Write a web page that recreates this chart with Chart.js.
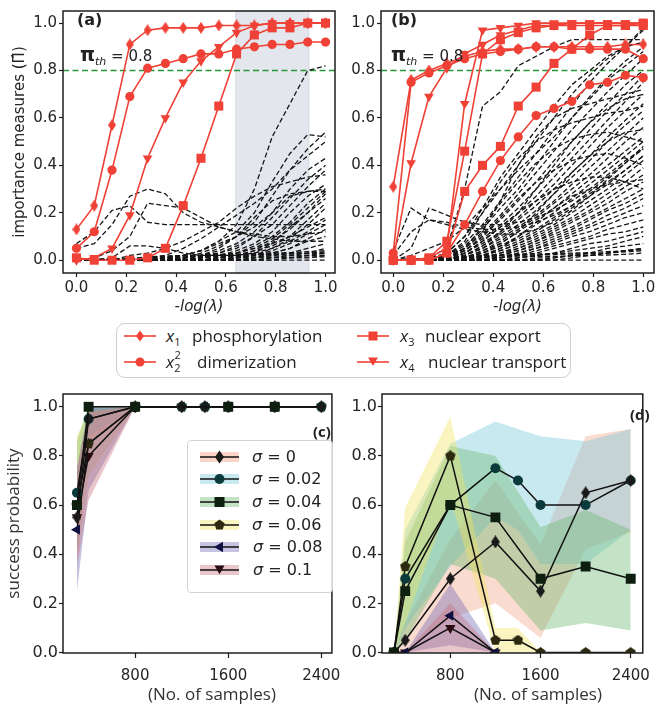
<!DOCTYPE html>
<html><head><meta charset="utf-8">
<script src="https://cdn.jsdelivr.net/npm/chart.js@4.4.1/dist/chart.umd.min.js"></script>
<style>
html,body{margin:0;padding:0;background:#fff;}
#wrap{position:relative;width:659px;height:707px;overflow:hidden;font-family:'DejaVu Sans',sans-serif;}
canvas{position:absolute;}
.ov{position:absolute;white-space:nowrap;color:#222;z-index:5;}
.lg{font-family:'Open Sans',sans-serif;font-size:17px;line-height:20px;}
.lg i{font-style:italic;}
.lg sub,.lg sup{font-size:11px;line-height:0;}
.cl{font-family:'DejaVu Sans';font-size:16px;line-height:20px;color:#222;}
svg{position:absolute;overflow:visible;z-index:5;}
</style></head><body><div id="wrap">
<canvas id="ca" width="345" height="320" style="left:0;top:0"></canvas>
<canvas id="cb" width="339" height="320" style="left:320px;top:0"></canvas>
<canvas id="cc" width="350" height="327" style="left:0;top:380px"></canvas>
<canvas id="cd" width="329" height="327" style="left:330px;top:380px"></canvas>

<div class="ov" style="left:77px;top:10px;font-weight:bold;font-size:16px;">(a)</div>
<div class="ov" style="left:391px;top:10px;font-weight:bold;font-size:16px;">(b)</div>
<div class="ov" style="left:80px;top:44px;line-height:20px;"><span style="font-weight:bold;font-size:19px;">π</span><sub style="font-style:italic;font-size:11px;">th</sub><span style="font-size:15px;"> = 0.8</span></div>
<div class="ov" style="left:391px;top:44px;line-height:20px;"><span style="font-weight:bold;font-size:19px;">π</span><sub style="font-style:italic;font-size:11px;">th</sub><span style="font-size:15px;"> = 0.8</span></div>

<div class="ov" style="left:116px;top:323px;width:453px;height:53px;border:1px solid #cfcfcf;border-radius:9px;background:#fff;z-index:4;"></div>
<svg style="left:124px;top:328px" width="32" height="16"><line x1="0" y1="8" x2="32" y2="8" stroke="#ef4136" stroke-width="1.6"/><polygon points="16,2.5 20,8 16,13.5 12,8" fill="#ef4136"/></svg>
<svg style="left:124px;top:354px" width="32" height="16"><line x1="0" y1="8" x2="32" y2="8" stroke="#ef4136" stroke-width="1.6"/><circle cx="16" cy="8" r="4.5" fill="#ef4136"/></svg>
<svg style="left:357px;top:328px" width="32" height="16"><line x1="0" y1="8" x2="32" y2="8" stroke="#ef4136" stroke-width="1.6"/><rect x="11.5" y="3.5" width="9" height="9" fill="#ef4136"/></svg>
<svg style="left:357px;top:354px" width="32" height="16"><line x1="0" y1="8" x2="32" y2="8" stroke="#ef4136" stroke-width="1.6"/><polygon points="11,3.5 21,3.5 16,12" fill="#ef4136"/></svg>
<div class="ov lg" style="left:166px;top:326px;"><i>x</i><sub>1</sub></div>
<div class="ov lg" style="left:192px;top:326px;">phosphorylation</div>
<div class="ov lg" style="left:166px;top:352px;"><i>x</i><sub>2</sub><sup style="position:relative;left:-6px;top:-2px;">2</sup></div>
<div class="ov lg" style="left:197px;top:352px;">dimerization</div>
<div class="ov lg" style="left:400px;top:326px;"><i>x</i><sub>3</sub></div>
<div class="ov lg" style="left:425px;top:326px;">nuclear export</div>
<div class="ov lg" style="left:400px;top:352px;"><i>x</i><sub>4</sub></div>
<div class="ov lg" style="left:428px;top:352px;">nuclear transport</div>

<div class="ov" style="left:313px;top:421px;font-family:'Open Sans';font-weight:bold;font-size:15px;">(c)</div>
<div class="ov" style="left:630px;top:404px;font-family:'Open Sans';font-weight:bold;font-size:15px;">(d)</div>
<div class="ov" style="left:212px;top:682px;transform:translateX(-50%);font-family:'Open Sans';font-size:17px;color:#333;">(No. of samples)</div>
<div class="ov" style="left:538px;top:682px;transform:translateX(-50%);font-family:'Open Sans';font-size:17px;color:#333;">(No. of samples)</div>

<div class="ov" style="left:187px;top:440px;width:144px;height:151px;border:1px solid #d3d3d3;border-radius:4px;background:rgba(255,255,255,0.85);z-index:4;"></div>
<svg style="left:200px;top:449px" width="40" height="16"><rect x="0" y="3" width="39" height="10" fill="rgba(240,135,97,0.36)"/><line x1="0" y1="8" x2="39" y2="8" stroke="#111" stroke-width="1.5"/><polygon points="19.5,1.5 24,8 19.5,14.5 15,8" fill="#1a1a1a"/></svg>
<svg style="left:200px;top:471px" width="40" height="16"><rect x="0" y="3" width="39" height="10" fill="rgba(120,200,220,0.4)"/><line x1="0" y1="8" x2="39" y2="8" stroke="#111" stroke-width="1.5"/><circle cx="19.5" cy="8" r="5" fill="#0b3a3b"/></svg>
<svg style="left:200px;top:494px" width="40" height="16"><rect x="0" y="3" width="39" height="10" fill="rgba(107,185,112,0.4)"/><line x1="0" y1="8" x2="39" y2="8" stroke="#111" stroke-width="1.5"/><rect x="14.5" y="3" width="10" height="10" fill="#0e1e0f"/></svg>
<svg style="left:200px;top:517px" width="40" height="16"><rect x="0" y="3" width="39" height="10" fill="rgba(242,227,97,0.4)"/><line x1="0" y1="8" x2="39" y2="8" stroke="#111" stroke-width="1.5"/><polygon points="19.5,2.5 24.7,6.3 22.7,12.4 16.3,12.4 14.3,6.3" fill="#2c2910"/></svg>
<svg style="left:200px;top:539px" width="40" height="16"><rect x="0" y="3" width="39" height="10" fill="rgba(110,105,180,0.4)"/><line x1="0" y1="8" x2="39" y2="8" stroke="#111" stroke-width="1.5"/><polygon points="14,8 23,2.8 23,13.2" fill="#101042"/></svg>
<svg style="left:200px;top:562px" width="40" height="16"><rect x="0" y="3" width="39" height="10" fill="rgba(200,112,125,0.4)"/><line x1="0" y1="8" x2="39" y2="8" stroke="#111" stroke-width="1.5"/><polygon points="14.5,3.5 24.5,3.5 19.5,12.2" fill="#2a0b12"/></svg>
<div class="ov cl" style="left:252px;top:447px;"><i>σ</i> = 0</div>
<div class="ov cl" style="left:252px;top:469px;"><i>σ</i> = 0.02</div>
<div class="ov cl" style="left:252px;top:492px;"><i>σ</i> = 0.04</div>
<div class="ov cl" style="left:252px;top:515px;"><i>σ</i> = 0.06</div>
<div class="ov cl" style="left:253px;top:537px;"><i>σ</i> = 0.08</div>
<div class="ov cl" style="left:253px;top:560px;"><i>σ</i> = 0.1</div>
</div>
<script>
// ---------- data: panels (a) and (b) ----------
const lambdaX = [0, 0.0714, 0.1429, 0.2143, 0.2857, 0.3571, 0.4286, 0.5, 0.5714, 0.6429, 0.7143, 0.7857, 0.8571, 0.9286, 1.0];
const xTicksTop = [0, 0.2, 0.4, 0.6, 0.8, 1.0];
const yTicksTop = [0, 0.2, 0.4, 0.6, 0.8, 1.0];
const threshold = 0.8;
const shadeRangeA = [0.64, 0.933];

const aX1   = [0.13,0.23,0.57,0.91,0.97,0.98,0.98,0.98,0.99,0.99,0.99,1.0,1.0,1.0,1.0];
const aX2sq = [0.05,0.12,0.38,0.69,0.81,0.83,0.85,0.87,0.87,0.89,0.90,0.91,0.91,0.92,0.92];
const aX3   = [0.01,0.0,0.0,0.0,0.01,0.05,0.23,0.43,0.65,0.87,0.95,0.98,0.98,1.0,1.0];
const aX4   = [0.0,0.01,0.05,0.19,0.43,0.60,0.75,0.84,0.90,0.96,0.99,1.0,1.0,1.0,1.0];

const bDiamond1 = [0.31,0.76,0.80,0.83,0.86,0.88,0.89,0.89,0.90,0.90,0.90,0.90,0.90,0.91,0.91];
const bCircle1  = [0.03,0.75,0.79,0.82,0.85,0.87,0.88,0.89,0.90,0.90,0.89,0.89,0.89,0.89,0.85];
const bTri1     = [0.0,0.41,0.69,0.81,0.87,0.91,0.95,0.97,0.99,0.99,1.0,1.0,1.0,1.0,1.0];
const bTri2     = [0.0,0.0,0.01,0.05,0.66,0.97,0.98,0.99,1.0,1.0,1.0,1.0,1.0,1.0,1.0];
const bSquare1  = [0.0,0.0,0.01,0.08,0.46,0.87,0.93,0.96,0.98,0.99,0.99,0.99,0.99,0.99,1.0];
const bSquare2  = [0.0,0.0,0.0,0.03,0.29,0.40,0.48,0.65,0.73,0.83,0.89,0.95,0.99,0.99,0.99];
const bCircle2  = [0.0,0.0,0.0,0.03,0.15,0.29,0.42,0.52,0.61,0.64,0.67,0.74,0.75,0.78,0.77];

const dashedA = [
 [0,0,0,0,.01,.01,.02,.04,.08,.15,.3,.52,.66,.8,.82],
 [0,0,0,0,0,.01,.02,.04,.08,.12,.2,.33,.45,.53,.52],
 [0,0,0,0,0,0,.01,.03,.06,.1,.16,.27,.38,.47,.54],
 [0,0,0,0,.01,.02,.05,.09,.14,.19,.24,.3,.38,.44,.5],
 [0,0,0,0,0,0,.01,.02,.04,.07,.12,.2,.3,.38,.43],
 [0,0,0,0,0,0,0,.01,.03,.05,.1,.18,.26,.34,.4],
 [0,0,0,0,0,0,.01,.02,.03,.06,.1,.15,.23,.31,.38],
 [.07,.12,.21,.23,.16,.15,.15,.15,.15,.15,.15,.15,.15,.15,.15],
 [.05,.07,.15,.27,.3,.28,.2,.16,.14,.12,.1,.09,.08,.08,.08],
 [0,.01,.04,.1,.24,.23,.22,.18,.14,.12,.11,.1,.1,.11,.12],
 [0,0,.01,.06,.06,.05,.03,.02,.02,.02,.03,.05,.08,.12,.17],
 [0,0,0,.02,.03,.05,.08,.12,.16,.22,.27,.31,.33,.35,.36],
 [0,0,0,0,0,0,.01,.02,.05,.1,.18,.25,.28,.29,.29],
 [0,0,0,0,0,.01,.02,.04,.07,.1,.14,.2,.27,.29,.3],
 [0,0,0,0,0,0,0,.01,.02,.04,.07,.12,.2,.27,.32],
 [0,0,0,0,0,0,0,0,.01,.03,.06,.1,.16,.24,.3],
 [0,0,0,0,0,0,0,.01,.02,.03,.05,.09,.15,.22,.29],
 [0,0,0,0,0,0,0,0,.01,.02,.04,.08,.13,.2,.28],
 [0,0,0,0,0,0,0,0,0,.01,.03,.07,.14,.2,.26],
 [0,0,0,0,0,0,0,0,.01,.02,.04,.06,.1,.17,.24],
 [0,0,0,0,0,0,0,0,0,.01,.02,.05,.09,.15,.22],
 [0,0,0,0,0,0,0,.01,.02,.03,.05,.07,.1,.14,.18],
 [0,0,0,0,0,0,0,0,0,.01,.02,.04,.07,.11,.15],
 [0,0,0,0,0,0,0,0,0,0,.01,.03,.05,.09,.13],
 [0,0,0,0,0,0,0,0,.01,.01,.02,.03,.05,.08,.1],
 [0,0,0,0,0,0,0,0,0,0,.01,.02,.03,.05,.07],
 [0,0,0,0,0,0,0,0,0,0,0,.01,.02,.03,.05],
 [0,0,0,0,0,0,0,0,0,0,0,.01,.01,.02,.03],
 [0,0,0,0,0,0,0,0,0,0,0,0,.01,.01,.02],
 [0,0,0,0,0,0,0,0,0,0,0,0,0,0,0],
 [0,0,0,0,.005,.006,.008,.01,.01,.01,.011,.012,.012,.013,.014],
 [0,0,0,0,.008,.01,.012,.014,.015,.016,.017,.018,.019,.02,.021],
 [.005,.005,.005,.006,.01,.012,.014,.016,.018,.02,.022,.024,.026,.028,.03],
 [.002,.002,.003,.004,.012,.015,.018,.02,.021,.022,.024,.026,.028,.03,.034],
 [0,0,.004,.006,.014,.018,.02,.022,.024,.026,.028,.03,.032,.036,.04]
];

const dashedB = [
 [0,0,.01,.05,.3,.65,.71,.82,.86,.9,.93,.93,.93,.93,.93],
 [.04,.22,.17,.15,.13,.12,.11,.11,.13,.16,.21,.27,.34,.41,.48],
 [0,.05,.22,.19,.16,.15,.15,.16,.18,.21,.25,.3,.36,.42,.47],
 [.02,.12,.17,.16,.14,.13,.13,.14,.16,.19,.23,.28,.33,.38,.44],
 [0,0,.01,.03,.1,.2,.3,.4,.5,.6,.7,.78,.85,.9,.98],
 [0,0,0,.02,.07,.15,.25,.35,.45,.55,.65,.75,.83,.9,.97],
 [0,0,0,.02,.06,.13,.22,.3,.4,.5,.6,.69,.77,.84,.9],
 [0,0,0,.01,.05,.11,.19,.28,.37,.46,.55,.63,.71,.78,.85],
 [0,0,0,.01,.04,.1,.17,.25,.33,.42,.5,.58,.66,.74,.8],
 [0,0,0,.01,.04,.09,.15,.22,.3,.38,.46,.55,.63,.7,.78],
 [0,0,0,.01,.03,.08,.14,.2,.27,.35,.43,.51,.59,.67,.75],
 [0,0,0,0,.03,.07,.12,.18,.25,.32,.4,.48,.56,.63,.7],
 [0,0,0,0,.02,.06,.11,.17,.23,.3,.37,.44,.52,.59,.66],
 [0,0,0,0,.02,.05,.1,.15,.21,.28,.35,.42,.5,.57,.63],
 [0,0,0,0,.02,.05,.09,.14,.19,.25,.32,.39,.46,.53,.6],
 [0,0,0,0,.01,.04,.08,.13,.18,.24,.3,.36,.43,.5,.56],
 [0,0,0,0,.01,.04,.07,.12,.17,.22,.28,.34,.4,.46,.52],
 [0,0,0,0,.01,.03,.06,.1,.15,.2,.26,.32,.38,.44,.5],
 [0,0,0,0,.01,.03,.06,.09,.13,.18,.23,.29,.35,.41,.47],
 [0,0,0,0,.01,.02,.05,.08,.12,.17,.22,.27,.32,.38,.44],
 [0,0,0,0,0,.02,.04,.07,.11,.15,.2,.25,.3,.36,.42],
 [0,0,0,0,0,.02,.04,.07,.1,.14,.18,.23,.28,.33,.39],
 [0,0,0,0,0,.01,.03,.06,.09,.13,.17,.21,.26,.31,.36],
 [0,0,0,0,0,.01,.03,.05,.08,.12,.16,.2,.24,.29,.33],
 [0,0,0,0,0,.01,.02,.05,.08,.11,.14,.18,.22,.26,.3],
 [0,0,0,0,0,.01,.02,.04,.07,.1,.13,.17,.21,.24,.28],
 [0,0,0,0,0,0,.02,.04,.06,.09,.12,.15,.19,.22,.26],
 [0,0,0,0,0,0,.01,.03,.05,.08,.11,.14,.17,.2,.23],
 [0,0,0,0,0,0,.01,.03,.05,.07,.1,.12,.15,.18,.2],
 [0,0,0,0,0,0,.01,.02,.04,.06,.08,.1,.13,.15,.17],
 [0,0,0,0,0,0,.01,.02,.03,.05,.07,.09,.11,.12,.14],
 [0,0,0,0,0,0,0,.01,.02,.03,.05,.07,.08,.1,.12],
 [0,0,0,0,0,0,0,.01,.02,.03,.04,.05,.06,.08,.1],
 [0,0,0,0,0,0,0,0,.01,.01,.02,.03,.05,.06,.07],
 [0,0,0,0,0,0,0,0,0,0,.01,.02,.03,.04,.05],
 [0,0,.01,.02,.05,.12,.25,.4,.52,.6,.64,.66,.68,.7,.72],
 [0,0,0,.02,.08,.2,.33,.43,.5,.55,.58,.6,.62,.63,.65],
 [0,0,0,.01,.05,.14,.24,.33,.41,.47,.51,.53,.54,.52,.5],
 [0,0,0,.01,.04,.1,.18,.26,.33,.38,.42,.44,.45,.43,.4],
 [0,0,0,0,.03,.08,.14,.2,.25,.3,.33,.35,.35,.33,.3],
 [0,.02,.05,.08,.14,.22,.3,.38,.45,.52,.6,.68,.76,.82,.88],
 [0,0,0,.03,.1,.22,.35,.45,.55,.65,.74,.8,.86,.9,.92],
 [0,0,0,0,.02,.06,.12,.2,.3,.4,.5,.58,.64,.68,.7],
 [0,0,0,0,.01,.03,.07,.12,.2,.28,.37,.44,.5,.54,.55],
 [0,0,0,0,0,.02,.05,.1,.16,.22,.27,.3,.32,.33,.34],
 [0,0,0,0,0,0,0,0,0,.01,.02,.02,.03,.04,.05],
 [0,0,0,0,0,0,0,0,0,0,0,0,0,0,0],
 [0,0,0,.005,.008,.01,.012,.014,.015,.016,.018,.02,.022,.025,.03],
 [.005,.005,.006,.008,.012,.015,.018,.02,.022,.024,.026,.028,.03,.035,.04],
 [0,0,.004,.01,.016,.02,.022,.024,.026,.028,.03,.032,.036,.04,.045]
];

// ---------- data: panels (c) and (d) ----------
const nSamples       = [300,400,800,1200,1400,1600,2000,2400];
const nSamplesNo1400 = [300,400,800,1200,1600,2000,2400];
const nSamplesSq     = [300,400,800,1600,2000];
const nSamplesShort  = [300,400,800,1200];
const xTicksBottom = [800, 1600, 2400];
const yTicksBottom = [0, 0.2, 0.4, 0.6, 0.8, 1.0];

// (c)
const cS0    = [0.55,0.95,1,1,1,1,1,1];   const cS0Lo   = [0.38,0.86,1,1,1,1,1,1]; const cS0Hi   = [0.72,1,1,1,1,1,1,1];
const cS002  = [0.65,0.95,1,1,1,1,1,1];   const cS002Lo = [0.45,0.88,1,1,1,1,1,1]; const cS002Hi = [0.85,1,1,1,1,1,1,1];
const cS004  = [0.60,1,1,1,1];            const cS004Lo = [0.42,0.96,1,1,1];       const cS004Hi = [0.87,1,1,1,1];
const cS006  = [0.60,0.85,1,1,1,1,1,1];   const cS006Lo = [0.40,0.72,1,1,1,1,1,1]; const cS006Hi = [0.88,0.98,1,1,1,1,1,1];
const cS008  = [0.50,0.85,1,1,1,1,1,1];   const cS008Lo = [0.25,0.66,1,1,1,1,1,1]; const cS008Hi = [0.75,1,1,1,1,1,1,1];
const cS01   = [0.55,0.80,1,1,1,1,1,1];   const cS01Lo  = [0.35,0.62,1,1,1,1,1,1]; const cS01Hi  = [0.75,0.98,1,1,1,1,1,1];
// (d)
const dS0    = [0,0.05,0.30,0.45,0.25,0.65,0.70];      const dS0Lo   = [0,0,0.14,0.20,0.06,0.42,0.49];      const dS0Hi   = [0,0.12,0.46,0.70,0.44,0.88,0.91];
const dS002  = [0,0.30,0.60,0.75,0.70,0.60,0.60,0.70]; const dS002Lo = [0,0.10,0.35,0.55,0.50,0.36,0.36,0.50]; const dS002Hi = [0,0.50,0.85,0.94,0.91,0.88,0.86,0.91];
const dS004  = [0,0.25,0.60,0.55,0.30,0.35,0.30];      const dS004Lo = [0,0.05,0.36,0.30,0.09,0.12,0.09];    const dS004Hi = [0,0.45,0.84,0.80,0.51,0.58,0.50];
const dS006  = [0,0.35,0.80,0.05,0.05,0,0,0];          const dS006Lo = [0,0.12,0.63,0,0,0,0,0];               const dS006Hi = [0,0.59,0.96,0.10,0.10,0,0,0];
const dS008  = [0,0,0.15,0];                            const dS008Lo = [0,0,0.03,0];                          const dS008Hi = [0,0,0.28,0];
const dS01   = [0,0,0.10,0];                            const dS01Lo  = [0,0,0,0];                             const dS01Hi  = [0,0,0.20,0];

// ---------- styling ----------
const RED = '#ef4136';
const bandCol = ['rgba(240,135,97,0.3)','rgba(120,200,220,0.4)','rgba(107,185,112,0.4)','rgba(242,227,97,0.4)','rgba(110,105,180,0.4)','rgba(200,112,125,0.4)'];
const markCol = ['#1a1a1a','#0b3a3b','#0e1e0f','#2c2910','#101042','#2a0b12'];
Chart.defaults.font.family = 'DejaVu Sans';

function shapeCanvas(shape, color, w, h) {
  const c = document.createElement('canvas'); c.width = w; c.height = h;
  const g = c.getContext('2d'); g.fillStyle = color; g.beginPath();
  if (shape === 'diamond') { g.moveTo(w/2,0); g.lineTo(w,h/2); g.lineTo(w/2,h); g.lineTo(0,h/2); }
  else { for (let i = 0; i < 5; i++) { const a = -Math.PI/2 + i*2*Math.PI/5; g.lineTo(w/2 + w/2*Math.cos(a), h/2 + h/2*Math.sin(a)); } }
  g.closePath(); g.fill(); return c;
}
const redDiamond = shapeCanvas('diamond', RED, 8, 12);
function pts(xs, ys) { return ys.map((y, i) => ({x: xs[i], y})); }

function redDs(vals, style, radius, rot) {
  return {data: pts(lambdaX, vals), borderColor: RED, backgroundColor: RED, borderWidth: 1.6,
    pointStyle: style, pointRadius: radius, pointRotation: rot || 0, pointBackgroundColor: RED,
    pointBorderColor: RED, pointBorderWidth: 0, order: 0, fill: false};
}
function dashDs(vals) {
  return {data: pts(lambdaX, vals), borderColor: '#151515', borderWidth: 1.3, borderDash: [5, 2.6],
    pointRadius: 0, order: 1, fill: false};
}

const framePlugin = {id: 'frame', afterDatasetsDraw(chart) {
  const {ctx, chartArea: a} = chart; ctx.save(); ctx.strokeStyle = '#1e1e1e'; ctx.lineWidth = 1.5;
  ctx.strokeRect(a.left, a.top, a.right - a.left, a.bottom - a.top); ctx.restore(); }};
const threshPlugin = {id: 'thresh', beforeDatasetsDraw(chart) {
  const {ctx, chartArea: a, scales} = chart; const y = scales.y.getPixelForValue(threshold);
  ctx.save(); ctx.strokeStyle = '#23983a'; ctx.lineWidth = 1.5; ctx.setLineDash([6, 3.5]);
  ctx.beginPath(); ctx.moveTo(a.left, y); ctx.lineTo(a.right, y); ctx.stroke(); ctx.restore(); }};
const shadePlugin = {id: 'shade', beforeDatasetsDraw(chart) {
  const {ctx, chartArea: a, scales} = chart;
  const x0 = scales.x.getPixelForValue(shadeRangeA[0]), x1 = scales.x.getPixelForValue(shadeRangeA[1]);
  ctx.save(); ctx.fillStyle = '#e4e6ed'; ctx.fillRect(x0, a.top, x1 - x0, a.bottom - a.top);
  ctx.strokeStyle = '#d4d7e0'; ctx.lineWidth = 1; ctx.strokeRect(x0, a.top, x1 - x0, a.bottom - a.top); ctx.restore(); }};

function axisCommon(ticksArr, fmt, tickLen, pad, fsize) {
  return {
    type: 'linear',
    afterBuildTicks: s => { s.ticks = ticksArr.map(v => ({value: v})); },
    ticks: {callback: fmt, font: {family: 'DejaVu Sans', size: fsize || 15}, color: '#262626', padding: pad, maxRotation: 0, autoSkip: false},
    grid: {display: true, drawOnChartArea: false, drawTicks: true, tickLength: tickLen, tickColor: '#1e1e1e', tickWidth: 1.2},
    border: {display: false}
  };
}

function topPanel(id, dashed, reds, extraPlugins, opt) {
  const x = axisCommon(xTicksTop, v => v.toFixed(1), 4, 2);
  x.min = opt.xmin; x.max = opt.xmax;
  x.title = {display: true, text: '-log(λ)', font: {family: 'DejaVu Sans', size: 15, style: 'italic'}, color: '#262626', padding: {top: 0, bottom: 4}};
  x.afterFit = s => { s.height = 47; };
  const y = axisCommon(yTicksTop, v => v.toFixed(1), 4, 2);
  y.min = -0.054; y.max = 1.051;
  if (opt.ytitle) y.title = {display: true, text: opt.ytitle, font: {family: 'DejaVu Sans', size: 15}, color: '#262626', padding: {top: 11, bottom: 0}};
  y.afterFit = s => { s.width = opt.yw; };
  return new Chart(document.getElementById(id), {
    type: 'line',
    data: {datasets: reds.concat(dashed.map(dashDs))},
    options: {responsive: false, animation: false, devicePixelRatio: 1,
      layout: {autoPadding: false, padding: {top: 5, right: opt.padR, left: 0, bottom: 0}},
      elements: {line: {tension: 0}},
      plugins: {legend: {display: false}, tooltip: {enabled: false}},
      scales: {x, y}},
    plugins: extraPlugins.concat([framePlugin])
  });
}

topPanel('ca', dashedA, [
  redDs(aX1, redDiamond, 5),
  redDs(aX2sq, 'circle', 4.6),
  redDs(aX3, 'rect', 6.4),
  redDs(aX4, 'triangle', 5.6, 180)
], [shadePlugin, threshPlugin], {xmin: -0.054, xmax: 1.038, yw: 63, padR: 10, ytitle: 'importance measures (Π̂)'});

topPanel('cb', dashedB, [
  redDs(bDiamond1, redDiamond, 5),
  redDs(bCircle1, 'circle', 4.6),
  redDs(bTri1, 'triangle', 5.6, 180),
  redDs(bTri2, 'triangle', 5.6, 180),
  redDs(bSquare1, 'rect', 6.4),
  redDs(bSquare2, 'rect', 6.4),
  redDs(bCircle2, 'circle', 4.6)
], [threshPlugin], {xmin: -0.049, xmax: 1.043, yw: 61, padR: 5});

// ---------- bottom panels ----------
const styles = [
  {ps: shapeCanvas('diamond', markCol[0], 9, 13), r: 5, rot: 0},
  {ps: 'circle', r: 5, rot: 0},
  {ps: 'rect', r: 7, rot: 0},
  {ps: shapeCanvas('pentagon', markCol[3], 11, 11), r: 5, rot: 0},
  {ps: 'triangle', r: 6, rot: 270},
  {ps: 'triangle', r: 6, rot: 180}
];
// bands: sigma=0 band drawn first (bottom), sigma=0.1 last (top), as in the reference
function seriesSet(k, xs, ys, lo, hi, order) {
  return [
    {data: pts(xs, lo), borderColor: 'transparent', borderWidth: 1, pointRadius: 0, fill: false, order: 20 - k},
    {data: pts(xs, hi), borderColor: 'transparent', borderWidth: 1, pointRadius: 0, fill: '-1', backgroundColor: bandCol[k], order: 20 - k},
    {data: pts(xs, ys), borderColor: '#111', borderWidth: 1.5, pointStyle: styles[k].ps, pointRadius: styles[k].r,
      pointRotation: styles[k].rot, pointBackgroundColor: markCol[k], pointBorderColor: markCol[k], pointBorderWidth: 0, fill: false, order: order}
  ];
}
function bottomPanel(id, sets, opt) {
  const x = axisCommon(xTicksBottom, v => String(v), 5, 9);
  x.min = opt.xmin; x.max = opt.xmax;
  x.afterFit = s => { s.height = 54; };
  const y = axisCommon(yTicksBottom, v => v.toFixed(1), 4, 1, 16);
  y.min = -0.002; y.max = 1.052;
  if (opt.ytitle) y.title = {display: true, text: opt.ytitle, font: {family: 'Open Sans', size: 17}, color: '#333', padding: {top: 4, bottom: 0}};
  y.afterFit = s => { s.width = opt.yw; };
  let ds = []; sets.forEach(s => { ds = ds.concat(s); });
  return new Chart(document.getElementById(id), {
    type: 'line',
    data: {datasets: ds},
    options: {responsive: false, animation: false, devicePixelRatio: 1,
      layout: {autoPadding: false, padding: {top: 14, right: opt.padR, left: 0, bottom: 0}},
      elements: {line: {tension: 0}},
      plugins: {legend: {display: false}, tooltip: {enabled: false}, filler: {drawTime: 'beforeDatasetsDraw'}},
      scales: {x, y}},
    plugins: [framePlugin]
  });
}

bottomPanel('cc', [
  seriesSet(0, nSamples, cS0, cS0Lo, cS0Hi, 1),
  seriesSet(1, nSamples, cS002, cS002Lo, cS002Hi, 2),
  seriesSet(2, nSamplesSq, cS004, cS004Lo, cS004Hi, 0),
  seriesSet(3, nSamples, cS006, cS006Lo, cS006Hi, 3),
  seriesSet(4, nSamples, cS008, cS008Lo, cS008Hi, 4),
  seriesSet(5, nSamples, cS01, cS01Lo, cS01Hi, 5)
], {xmin: 180, xmax: 2491, yw: 63, padR: 15, ytitle: 'success probability'});

bottomPanel('cd', [
  seriesSet(0, nSamplesNo1400, dS0, dS0Lo, dS0Hi, 1),
  seriesSet(1, nSamples, dS002, dS002Lo, dS002Hi, 2),
  seriesSet(2, nSamplesNo1400, dS004, dS004Lo, dS004Hi, 0),
  seriesSet(3, nSamples, dS006, dS006Lo, dS006Hi, 3),
  seriesSet(4, nSamplesShort, dS008, dS008Lo, dS008Hi, 4),
  seriesSet(5, nSamplesShort, dS01, dS01Lo, dS01Hi, 5)
], {xmin: 194, xmax: 2507, yw: 52, padR: 4});
</script>
</body></html>
